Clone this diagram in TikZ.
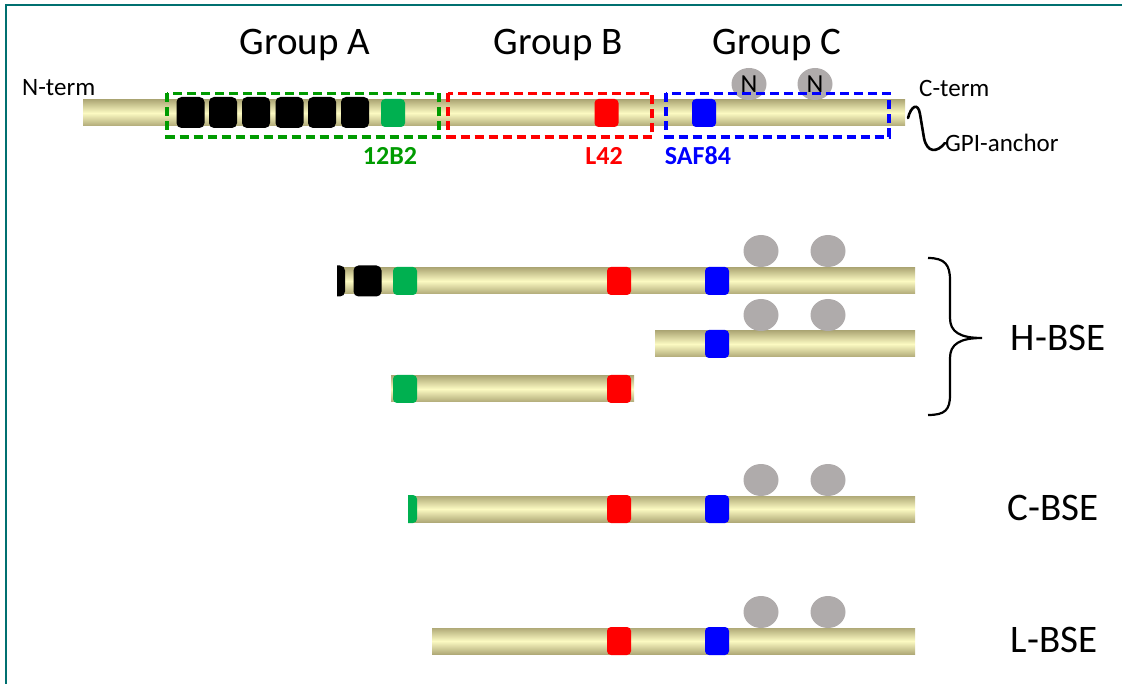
\documentclass[tikz,border=0pt]{standalone}
\usepackage{fontspec}
\setmainfont{Carlito}
\usetikzlibrary{shapes.geometric}
\definecolor{frame}{RGB}{0,112,112}
\definecolor{bardark}{RGB}{176,170,120}
\definecolor{barlight}{RGB}{252,250,194}
\definecolor{sqgreen}{RGB}{0,176,80}
\definecolor{sqred}{RGB}{255,0,0}
\definecolor{sqblue}{RGB}{0,0,255}
\definecolor{dgreen}{RGB}{0,155,0}
\definecolor{glyc}{RGB}{175,171,171}
\tikzset{
  bar/.style={rectangle, inner sep=0pt, minimum height=26pt, anchor=west,
    top color=bardark, bottom color=bardark, middle color=barlight},
  sq/.style={rectangle, inner sep=0pt, minimum width=24pt, minimum height=28pt, rounded corners=4pt},
  blk/.style={rectangle, inner sep=0pt, minimum width=28pt, minimum height=31pt, rounded corners=5pt, fill=black},
  gsq/.style={sq, fill=sqgreen},
  rsq/.style={sq, fill=sqred},
  bsq/.style={sq, fill=sqblue},
  glycan/.style={ellipse, inner sep=0pt, minimum width=35pt, minimum height=32pt, fill=glyc},
  grpbox/.style={line width=3.5pt, dash pattern=on 9pt off 5pt},
  grp/.style={font=\fontsize{39}{44}\selectfont, inner sep=0pt},
  term/.style={font=\fontsize{25}{28}\selectfont, inner sep=0pt},
  mab/.style={font=\bfseries\fontsize{26}{29}\selectfont, inner sep=0pt},
  bse/.style={font=\fontsize{39}{44}\selectfont, inner sep=0pt}
}
\begin{document}
\begin{tikzpicture}[x=1pt,y=-1pt]
\useasboundingbox (0,0) rectangle (1122,684);
% frame
\draw[frame, line width=2pt] (6,684) -- (6,5.5) -- (1122,5.5);

% ---------- full protein ----------
\node[bar, minimum width=822pt] (b1) at (83,113) {};
\foreach \i/\cx in {1/190.5,2/223,3/256,4/289.5,5/322,6/355}
  \node[blk] (k\i) at (\cx,112.5) {};
\node[gsq] (g1) at (393,113) {};
\node[rsq] (r1) at (606.5,113) {};
\node[bsq] (u1) at (704,113) {};
\node[glycan] (n1) at (749,84) {\fontsize{26}{29}\selectfont N};
\node[glycan] (n2) at (815,84) {\fontsize{26}{29}\selectfont N};
\draw[grpbox, dgreen] (167,93.5) rectangle (439,137);
\draw[grpbox, sqred] (448,93.5) rectangle (652,137);
\draw[grpbox, sqblue] (666,93.5) rectangle (889,137);

\node[grp] (ga) at (305,45) {Group A};
\node[grp] (gb) at (558,45) {Group B};
\node[grp] (gc) at (777,45) {Group C};
\node[term, anchor=west] (nt) at (22,88) {N-term};
\node[term, anchor=west] (ct) at (919,88) {C-term};
\node[term, anchor=west] (gpi) at (945,143) {GPI-anchor};
\node[mab, dgreen] (l12) at (390,156) {12B2};
\node[mab, sqred] (l42) at (604,156) {L42};
\node[mab, sqblue] (lsaf) at (698,156) {SAF84};
\draw[line width=2.6pt, line cap=round] (908,118) .. controls (911,106) and (918,102) .. (920,114)
  -- (924,138) .. controls (927,153) and (937,153) .. (945,143);

% ---------- H-BSE row 1 ----------
\node[bar, minimum width=575pt] (b2) at (340,281) {};
\begin{scope}
  \clip (337,260) rectangle (360,300);
  \node[blk] (k2a) at (331,281) {};
\end{scope}
\node[blk] (k2b) at (367.5,281) {};
\node[gsq] (g2) at (405,281) {};
\node[rsq] (r2) at (619,281) {};
\node[bsq] (u2) at (717,281) {};
\node[glycan] (n21) at (761,251) {};
\node[glycan] (n22) at (828,251) {};

% ---------- H-BSE row 2 ----------
\node[bar, minimum width=260pt] (b3) at (655,344) {};
\node[bsq] (u3) at (717,344) {};
\node[glycan] (n31) at (761,315) {};
\node[glycan] (n32) at (828,315) {};

% ---------- H-BSE row 3 ----------
\node[bar, minimum width=243pt] (b4) at (391,389) {};
\node[gsq] (g4) at (405,389) {};
\node[rsq] (r4) at (619,389) {};

% brace + label
\draw[line width=2.2pt] (928,258) .. controls (945,258) and (950,265) .. (950,280)
  -- (950,318) .. controls (950,332) and (960,338) .. (982,338)
  .. controls (960,338) and (950,344) .. (950,358)
  -- (950,395) .. controls (950,410) and (945,415) .. (928,415);
\node[bse] (hb) at (1058,338) {H-BSE};

% ---------- C-BSE ----------
\node[bar, minimum width=507pt] (b5) at (408,509) {};
\begin{scope}
  \clip (408,490) rectangle (430,530);
  \node[gsq] (g5) at (405,509) {};
\end{scope}
\node[rsq] (r5) at (619,509) {};
\node[bsq] (u5) at (717,509) {};
\node[glycan] (n51) at (761,480) {};
\node[glycan] (n52) at (828,480) {};
\node[bse] (cb) at (1053,508) {C-BSE};

% ---------- L-BSE ----------
\node[bar, minimum width=483pt] (b6) at (432,641) {};
\node[rsq] (r6) at (619,641) {};
\node[bsq] (u6) at (717,641) {};
\node[glycan] (n61) at (761,612) {};
\node[glycan] (n62) at (828,612) {};
\node[bse] (lb) at (1054,640) {L-BSE};
\end{tikzpicture}
\end{document}
